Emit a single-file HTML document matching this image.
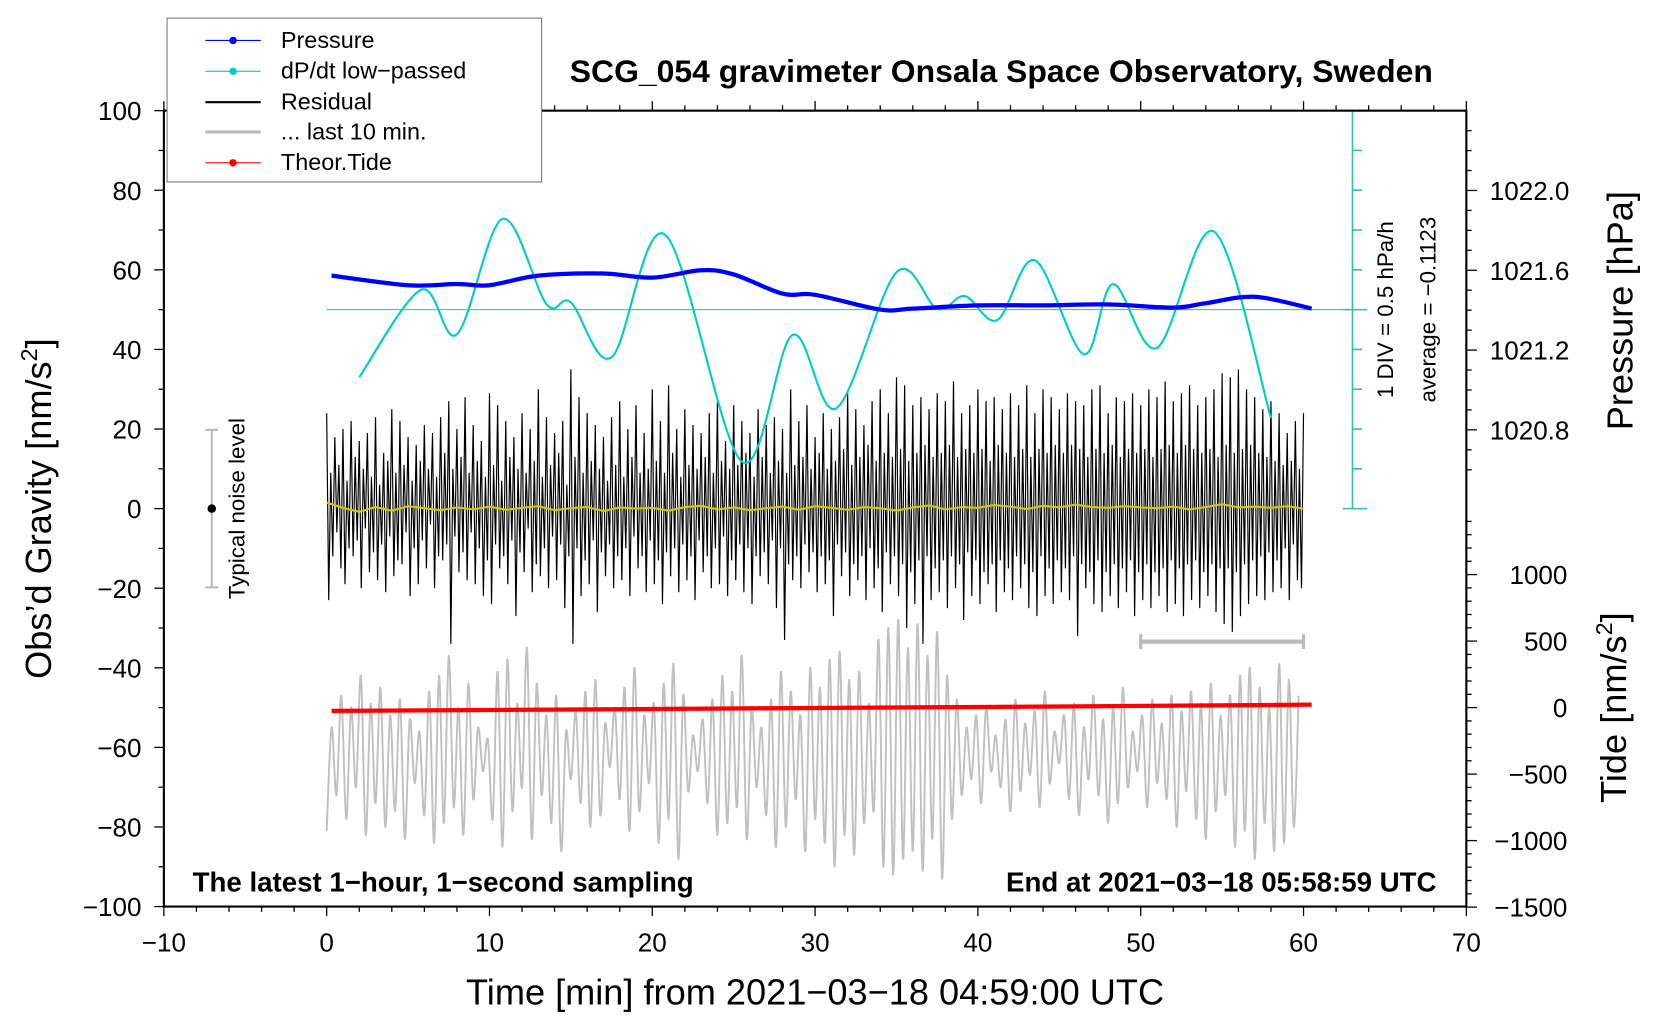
<!DOCTYPE html>
<html><head><meta charset="utf-8"><title>SCG_054 gravimeter</title>
<style>
html,body{margin:0;padding:0;background:#fff;}
svg{display:block;font-family:"Liberation Sans",Arial,sans-serif;}
</style></head>
<body>
<svg id="chart" width="1660" height="1020" viewBox="0 0 1560 958.6" preserveAspectRatio="none" xmlns="http://www.w3.org/2000/svg">
<rect x="0" y="0" width="1560" height="958.6" fill="#fff"/>
<g id="series"></g>
<g id="axes"></g>
<rect x="154" y="104" width="1224" height="748" fill="none" stroke="#000" stroke-width="2"/>
<text x="941" y="77" font-size="30" font-weight="bold" text-anchor="middle">SCG_054 gravimeter Onsala Space Observatory, Sweden</text>
<text x="181" y="838" font-size="26" font-weight="bold">The latest 1−hour, 1−second sampling</text>
<text x="1350" y="838" font-size="26" font-weight="bold" text-anchor="end">End at 2021−03−18 05:58:59 UTC</text>
<text x="766" y="944" font-size="34" text-anchor="middle">Time [min] from 2021−03−18 04:59:00 UTC</text>
<text transform="translate(48,478) rotate(-90)" font-size="34" text-anchor="middle">Obs’d Gravity [nm/s<tspan dy="-13" font-size="22">2</tspan><tspan dy="13">]</tspan></text>
<text transform="translate(1534,292) rotate(-90)" font-size="34" text-anchor="middle">Pressure [hPa]</text>
<text transform="translate(1528,665) rotate(-90)" font-size="34" text-anchor="middle">Tide [nm/s<tspan dy="-13" font-size="22">2</tspan><tspan dy="13">]</tspan></text>
<text transform="translate(1309,291) rotate(-90)" font-size="21" text-anchor="middle">1 DIV = 0.5 hPa/h</text>
<text transform="translate(1349,291) rotate(-90)" font-size="21" text-anchor="middle">average = −0.1123</text>
<g>
<line x1="199" y1="404" x2="199" y2="552" stroke="#bbb" stroke-width="2"/>
<line x1="193" y1="404" x2="205" y2="404" stroke="#bbb" stroke-width="2"/>
<line x1="193" y1="552" x2="205" y2="552" stroke="#bbb" stroke-width="2"/>
<circle cx="199" cy="478" r="4" fill="#000"/>
<text transform="translate(230,478) rotate(-90)" font-size="21" text-anchor="middle">Typical noise level</text>
</g>
<g>
<line x1="1072" y1="603" x2="1225" y2="603" stroke="#bbb" stroke-width="4"/>
<line x1="1072" y1="596" x2="1072" y2="610" stroke="#bbb" stroke-width="3"/>
<line x1="1225" y1="596" x2="1225" y2="610" stroke="#bbb" stroke-width="3"/>
</g>
<g>
<rect x="157" y="17" width="352" height="154" fill="#fff" stroke="#777" stroke-width="1"/>
<g><line x1="193" y1="38" x2="245" y2="38" stroke="#00f"/><circle cx="219" cy="38" r="3.5" fill="#00f"/><text x="264" y="45" font-size="22">Pressure</text></g>
<g><line x1="193" y1="67" x2="245" y2="67" stroke="#0cc"/><circle cx="219" cy="67" r="3.5" fill="#0cc"/><text x="264" y="74" font-size="22">dP/dt low−passed</text></g>
<g><line x1="193" y1="96" x2="245" y2="96" stroke="#000" stroke-width="2"/><text x="264" y="103" font-size="22">Residual</text></g>
<g><line x1="193" y1="124" x2="245" y2="124" stroke="#bbb" stroke-width="3"/><text x="264" y="131" font-size="22">... last 10 min.</text></g>
<g><line x1="193" y1="153" x2="245" y2="153" stroke="#f00"/><circle cx="219" cy="153" r="3.5" fill="#f00"/><text x="264" y="160" font-size="22">Theor.Tide</text></g>
</g>
</svg>
<script>
// ---- data ----
const xTicks = [-10, 0, 10, 20, 30, 40, 50, 60, 70];
const yTicks = [-100, -80, -60, -40, -20, 0, 20, 40, 60, 80, 100];
const pressureTicks = [1020.8, 1021.2, 1021.6, 1022.0];
const tideTicks = [-1500, -1000, -500, 0, 500, 1000];
const pressureTimes = [0.3, 5, 8, 10, 13, 17, 20, 23, 25, 28, 30, 34, 36, 40, 44, 48, 52, 54, 57, 60.5];
const pressureValues = [1021.573, 1021.525, 1021.531, 1021.525, 1021.573, 1021.584, 1021.563, 1021.600, 1021.579, 1021.483, 1021.477, 1021.403, 1021.408, 1021.424, 1021.424, 1021.429, 1021.413, 1021.435, 1021.467, 1021.408];
const dpdtTimes = [2, 5.8, 8, 10.8, 13.5, 15, 17.5, 20.8, 25.5, 28.6, 31.3, 35, 37.5, 39.2, 41.2, 43.5, 46.5, 48.3, 51, 54.5, 58];
const dpdtValues = [-0.85, 0.25, -0.31, 1.14, 0.07, 0.09, -0.60, 0.94, -1.91, -0.32, -1.24, 0.47, 0.01, 0.17, -0.13, 0.62, -0.56, 0.32, -0.48, 0.98, -1.36];
const tideTimes = [0.3, 15, 30, 45, 60.5];
const tideValues = [-25, -14, -3, 8, 22];
const residualValues = [
24,-23,9,-12,18,-6,11,-15,20,-19,7,-10,22,-12,13,-8,17,-20,10,-5,
19,-16,8,-11,23,-18,6,-9,14,-21,12,-7,25,-17,9,-13,22,-14,11,-6,
18,-22,7,-10,16,-19,12,-8,21,-15,10,-4,19,-20,8,-12,23,-13,14,-9,
27,-34,10,-7,20,-16,13,-11,28,-18,9,-6,21,-19,12,-10,17,-22,8,-13,
29,-24,11,-9,26,-15,7,-12,22,-19,13,-8,18,-27,10,-11,24,-16,9,-5,
20,-21,12,-14,30,-17,8,-10,23,-20,11,-7,19,-18,14,-9,22,-25,6,-12,
35,-34,13,-10,28,-22,9,-13,24,-19,12,-8,21,-26,10,-11,18,-17,7,-9,
23,-20,11,-12,27,-18,8,-10,20,-22,13,-7,26,-15,9,-12,19,-21,10,-8,
30,-19,12,-13,22,-24,9,-11,31,-17,14,-10,20,-21,8,-9,25,-18,11,-12,
21,-23,10,-8,19,-16,13,-12,24,-20,9,-10,27,-19,12,-7,17,-22,10,-13,
26,-18,11,-9,22,-21,14,-10,19,-24,8,-12,25,-17,13,-11,21,-19,9,-8,
23,-25,12,-10,20,-33,9,-14,30,-18,11,-12,22,-20,13,-9,26,-16,10,-11,
18,-21,14,-12,24,-19,10,-13,20,-27,12,-9,23,-17,15,-11,29,-22,11,-14,
25,-18,13,-12,21,-23,16,-10,27,-20,12,-15,30,-26,14,-11,24,-19,13,-12,
33,-22,15,-14,31,-30,12,-16,26,-24,14,-13,28,-34,16,-12,25,-23,13,-15,
29,-21,14,-13,27,-25,16,-12,32,-20,13,-14,24,-28,15,-11,26,-22,14,-13,
30,-24,15,-16,27,-19,12,-14,28,-26,16,-13,25,-21,14,-15,29,-23,13,-12,
26,-20,15,-14,31,-25,13,-16,24,-27,15,-12,30,-22,14,-15,28,-24,16,-13,
25,-21,14,-15,29,-23,16,-12,27,-32,15,-14,26,-20,13,-16,30,-24,15,-13,
31,-26,14,-16,24,-22,16,-14,28,-25,13,-15,27,-21,15,-13,29,-27,14,-16,
26,-23,15,-14,30,-25,13,-16,28,-22,15,-15,32,-26,16,-13,27,-24,14,-15,
29,-27,16,-14,31,-23,15,-13,26,-25,14,-16,28,-22,15,-14,30,-26,13,-15,
34,-29,16,-15,33,-31,14,-16,35,-27,15,-14,30,-24,16,-13,28,-22,14,-12,
25,-23,13,-11,27,-21,12,-13,24,-20,11,-10,19,-23,12,-9,22,-18,10,-20, 24];
const smoothValues = [1.5,0.2,-0.8,0.4,-0.5,0.6,0.1,-0.4,0.3,-0.2, 0.5,-0.3,0.2,0.6,-0.4,0.1,0.4,-0.6,0.3,0.0, 0.2,-0.5,0.4,0.7,-0.2,0.3,-0.4,0.1,0.5,-0.3, 0.6,0.2,-0.3,0.4,0.1,-0.5,0.3,0.8,-0.2,0.4, 0.2,0.9,0.5,-0.1,0.7,0.3,1.0,0.4,0.2,0.6, 0.3,0.1,0.5,-0.2,0.4,1.1,0.3,0.5,0.2,0.6,0.0];
const lastTenValues = [
-81,-55,-72,-47,-78,-50,-70,-42,-82,-49,-74,-45,-80,-52,-76,-48,-83,-53,-69,-56,
-77,-46,-84,-42,-79,-37,-75,-50,-82,-44,-73,-55,-66,-58,-78,-41,-85,-38,-76,-49,
-70,-35,-83,-44,-72,-52,-79,-47,-86,-56,-68,-51,-74,-46,-80,-43,-77,-54,-65,-50,
-73,-45,-81,-40,-76,-52,-69,-49,-84,-44,-78,-39,-88,-47,-71,-57,-66,-53,-74,-48,
-82,-42,-79,-46,-75,-37,-83,-50,-70,-55,-77,-48,-85,-41,-80,-46,-73,-52,-86,-40,
-78,-45,-84,-38,-90,-36,-82,-43,-87,-41,-79,-49,-76,-33,-90,-30,-92,-28,-88,-35,
-86,-29,-91,-37,-83,-31,-93,-42,-78,-48,-72,-55,-68,-52,-74,-50,-66,-57,-70,-53,
-76,-48,-71,-54,-67,-51,-75,-46,-69,-56,-64,-52,-73,-49,-77,-55,-68,-47,-72,-53,
-79,-50,-74,-45,-70,-56,-66,-52,-75,-48,-69,-54,-73,-47,-80,-51,-71,-46,-78,-49,
-83,-44,-76,-52,-72,-47,-85,-42,-81,-40,-88,-45,-79,-50,-86,-39,-84,-43,-80,-47];

// ---- scales ----
const NS = "http://www.w3.org/2000/svg";
function xS(t){ return 307 + t * 15.3; }
function yS(v){ return 478 - v * 3.74; }
function pS(p){ return 291.5 - (p - 1021.4) * 187.5; }
function tS(v){ return 665 - v * 0.125; }
function dS(v){ return 291 - v * 74.8; }
const series = document.getElementById('series');
const axes = document.getElementById('axes');
function mk(tag, attrs, parent){
  const e = document.createElementNS(NS, tag);
  for (const k in attrs) e.setAttribute(k, attrs[k]);
  parent.appendChild(e);
  return e;
}
function smoothPath(pts){
  let d = 'M' + pts[0][0] + ',' + pts[0][1];
  for (let i = 0; i < pts.length - 1; i++){
    const p0 = pts[i-1] || pts[i], p1 = pts[i], p2 = pts[i+1], p3 = pts[i+2] || p2;
    const c1x = p1[0] + (p2[0]-p0[0])/6, c1y = p1[1] + (p2[1]-p0[1])/6;
    const c2x = p2[0] - (p3[0]-p1[0])/6, c2y = p2[1] - (p3[1]-p1[1])/6;
    d += ' C' + c1x + ',' + c1y + ' ' + c2x + ',' + c2y + ' ' + p2[0] + ',' + p2[1];
  }
  return d;
}

// ---- series ----
const greyLine = mk('path', {d: smoothPath(lastTenValues.map((v,i)=>[xS(i*0.3), yS(v)])), fill:'none', stroke:'#c0c0c0', 'stroke-width':1.8}, series);



const resLine = mk('polyline', {points: residualValues.map((v,i)=>xS(i*0.125)+','+yS(v)).join(' '), fill:'none', stroke:'#000', 'stroke-width':1.1}, series);



const yelLine = mk('polyline', {points: smoothValues.map((v,i)=>xS(i)+','+yS(v)).join(' '), fill:'none', stroke:'#cccc00', 'stroke-width':2}, series);



const zeroLine = mk('line', {x1:xS(0), y1:dS(0), x2:1285, y2:dS(0), stroke:'#0cc', 'stroke-width':1}, series);



const dLine = mk('path', {d: smoothPath(dpdtTimes.map((t,i)=>[xS(t), dS(dpdtValues[i])])), fill:'none', stroke:'#0cc', 'stroke-width':2}, series);



const pLine = mk('path', {d: smoothPath(pressureTimes.map((t,i)=>[xS(t), pS(pressureValues[i])])), fill:'none', stroke:'#00f', 'stroke-width':4}, series);



const tLine = mk('polyline', {points: tideTimes.map((t,i)=>xS(t)+','+tS(tideValues[i])).join(' '), fill:'none', stroke:'#f00', 'stroke-width':4}, series);



// dP/dt division scale bar
const divBar = mk('line', {x1:1271, y1:104, x2:1271, y2:478, stroke:'#3bb', 'stroke-width':1.5}, series);


for (let k = 0; k <= 10; k++){
  const y = 104 + k * 37.4;
  const big = (k === 0 || k === 5 || k === 10);
  mk('line', {x1: big ? 1262 : 1271, y1:y, x2: big ? 1285 : 1280, y2:y, stroke:'#3bb', 'stroke-width':1.5}, series);
}

// ---- axes ----
for (let t = -10; t <= 70; t += 2){
  const big = (t % 10 === 0);
  mk('line', {x1:xS(t), y1:852, x2:xS(t), y2:852 + (big ? 9 : 5), stroke:'#000', 'stroke-width':1.2}, axes);
  mk('line', {x1:xS(t), y1:104, x2:xS(t), y2:104 - (big ? 9 : 5), stroke:'#000', 'stroke-width':1.2}, axes);
}
xTicks.forEach(t => {
  const lb = mk('text', {x:xS(t), y:894, 'font-size':24.5, 'text-anchor':'middle'}, axes);
  lb.textContent = String(t).replace('-', '−');
  
  
});
for (let v = -100; v <= 100; v += 10){
  const big = (v % 20 === 0);
  mk('line', {x1:154 - (big ? 9 : 5), y1:yS(v), x2:154, y2:yS(v), stroke:'#000', 'stroke-width':1.2}, axes);
}
yTicks.forEach(v => {
  const lb = mk('text', {x:133, y:yS(v) + 9, 'font-size':24.5, 'text-anchor':'end'}, axes);
  lb.textContent = String(v).replace('-', '−');
  
  
});
for (let p = 1020.6; p <= 1022.5; p += 0.1){
  const y = pS(p);
  if (y < 104 || y > 478) continue;
  const big = Math.abs(Math.round(p * 10) % 4) === 0;
  mk('line', {x1:1378, y1:y, x2:1378 + (big ? 10 : 5), y2:y, stroke:'#000', 'stroke-width':1.2}, axes);
}
pressureTicks.forEach(p => {
  const lb = mk('text', {x:1400, y:pS(p) + 9, 'font-size':24.5}, axes);
  lb.textContent = p.toFixed(1);
  
  
});
for (let v = -1500; v <= 1400; v += 100){
  const y = tS(v);
  if (y < 478) continue;
  const big = (v % 500 === 0);
  mk('line', {x1:1378, y1:y, x2:1378 + (big ? 10 : 5), y2:y, stroke:'#000', 'stroke-width':1.2}, axes);
}
tideTicks.forEach(v => {
  const lb = mk('text', {x:1473, y:tS(v) + 9, 'font-size':24.5, 'text-anchor':'end'}, axes);
  lb.textContent = String(v).replace('-', '−');
  
  
});
</script>
</body></html>
